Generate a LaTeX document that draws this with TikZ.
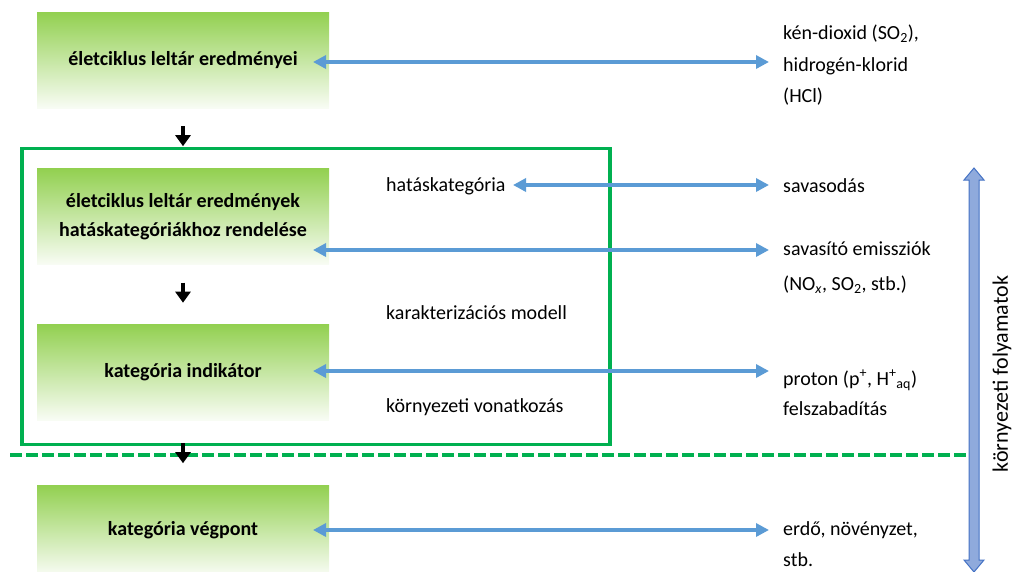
\documentclass[tikz,border=0pt]{standalone}
\usepackage{fontspec}
\setmainfont{Carlito}
\usetikzlibrary{arrows.meta}
\definecolor{boxgreen}{RGB}{146,208,80}
\definecolor{frgreen}{RGB}{0,176,80}
\definecolor{arrblue}{RGB}{91,155,213}
\definecolor{vfill}{RGB}{143,170,220}
\definecolor{vedge}{RGB}{68,114,196}
\begin{document}
\begin{tikzpicture}[x=1pt,y=-1pt,
  gbox/.style={minimum width=292pt,minimum height=96pt,inner sep=0pt,top color=boxgreen,bottom color=boxgreen!6,align=center,font=\bfseries\fontsize{20}{29}\selectfont},
  lbl/.style={anchor=base west,inner sep=0pt,font=\fontsize{20}{24}\selectfont},
  barrow/.style={arrblue,line width=3.6pt,{Triangle[width=13pt,length=13pt]}-{Triangle[width=13pt,length=13pt]}},
  darrow/.style={black,line width=4pt,-{Triangle[width=15pt,length=11pt]}}]
\useasboundingbox (0,0) rectangle (1013,571);
% green boxes
\node[gbox] (b1) at (183,60) {életciklus leltár eredményei};
\node[gbox] (b2) at (183,216.5) {életciklus leltár eredmények\\hatáskategóriákhoz rendelése};
\node[gbox] (b3) at (183,372) {kategória indikátor};
\node[gbox,minimum height=90pt] (b4) at (183,530) {kategória végpont};
% frame and dashed boundary
\node[draw=frgreen,line width=3.5pt,minimum width=588pt,minimum height=296pt,inner sep=0pt] (fr) at (316,296.5) {};
\coordinate (dl) at (10,455);
\coordinate (dr) at (967,455);
\draw[frgreen,line width=3.5pt,dash pattern=on 12pt off 4pt] (dl) -- (dr);
% down arrows
\draw[darrow] ([yshift=-18pt]b1.south) -- ([yshift=-38pt]b1.south);
\draw[darrow] ([yshift=-18pt]b2.south) -- ([yshift=-38pt]b2.south);
\draw[darrow] ([yshift=-23pt]b3.south) -- ([yshift=-43pt]b3.south);
% middle labels
\node[lbl] (hk) at (386,191) {hatáskategória};
\node[lbl] (km) at (386,319) {karakterizációs modell};
\node[lbl] (kv) at (386,412) {környezeti vonatkozás};
% right labels
\node[lbl] (r1a) at (783,39) {kén-dioxid (SO\textsubscript{2}),};
\node[lbl] (r1b) at (783,71) {hidrogén-klorid};
\node[lbl] (r1c) at (783,102) {(HCl)};
\node[lbl] (r2) at (783,192) {savasodás};
\node[lbl] (r3a) at (783,255) {savasító emissziók};
\node[lbl] (r3b) at (783,290) {(NO\textsubscript{\textit{x}}, SO\textsubscript{2}, stb.)};
\node[lbl] (r4a) at (783,385) {proton (p\textsuperscript{+}, H\textsuperscript{+}\textsubscript{aq})};
\node[lbl] (r4b) at (783,415) {felszabadítás};
\node[lbl] (r5a) at (783,535) {erdő, növényzet,};
\node[lbl] (r5b) at (783,566) {stb.};
% blue arrow end points
\coordinate (L1) at (313,62);   \coordinate (R1) at (769,62);
\coordinate (L2) at (513,185);  \coordinate (R2) at (769,185);
\coordinate (L3) at (313,250);  \coordinate (R3) at (769,250);
\coordinate (L4) at (313,371);  \coordinate (R4) at (769,371);
\coordinate (L5) at (313,530);  \coordinate (R5) at (769,530);
\draw[barrow] (L1) -- (R1);
\draw[barrow] (L2) -- (R2);
\draw[barrow] (L3) -- (R3);
\draw[barrow] (L4) -- (R4);
\draw[barrow] (L5) -- (R5);
% vertical block arrow
\draw[vedge,fill=vfill,line width=1pt,line join=miter]
  (974,168) -- (984,180) -- (979,180) -- (979,560) -- (984,560) -- (974,572)
  -- (964,560) -- (969,560) -- (969,180) -- (964,180) -- cycle;
\node[rotate=90,inner sep=0pt,font=\fontsize{22}{26}\selectfont] (vl) at (1002,374) {környezeti folyamatok};
\end{tikzpicture}
\end{document}
